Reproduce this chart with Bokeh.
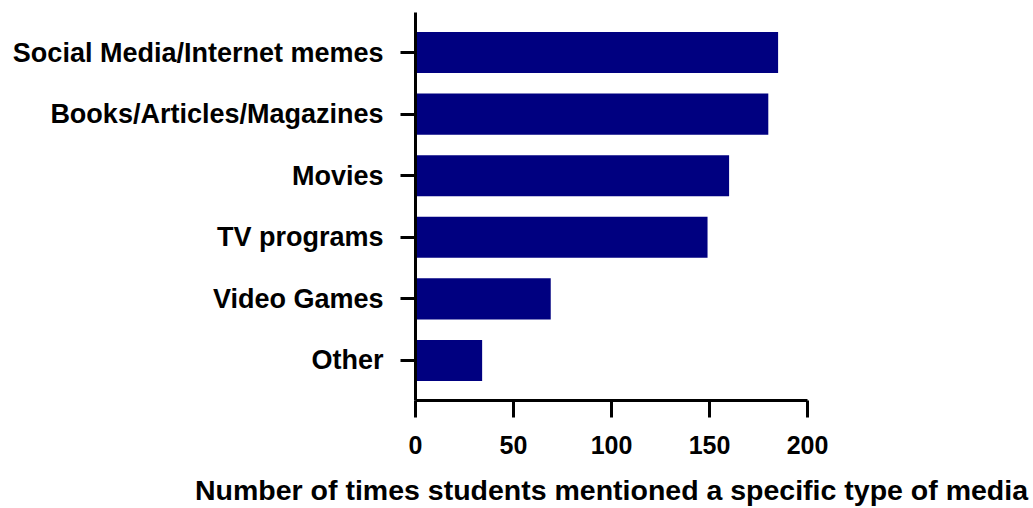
from bokeh.plotting import figure
from bokeh.models import Range1d, FixedTicker, ColumnDataSource
from bokeh.embed import file_html
from bokeh.resources import INLINE

categories = ["Social Media/Internet memes", "Books/Articles/Magazines", "Movies",
              "TV programs", "Video Games", "Other"]
counts = [185, 180, 160, 149, 69, 34]
x_ticks = [0, 50, 100, 150, 200]
x_title = "Number of times students mentioned a specific type of media"

n = len(categories)
positions = [n - 1 - i for i in range(n)]

src = ColumnDataSource(dict(y=positions, right=counts, name=categories))

p = figure(width=1033, height=508, output_backend="svg", toolbar_location=None,
           x_range=Range1d(0, 200), y_range=Range1d(-0.65, n - 1 + 0.65),
           min_border_left=415, min_border_right=226, min_border_top=12, min_border_bottom=103)

p.hbar(y="y", left=0, right="right", height=0.667, source=src,
       fill_color="#000080", line_color=None)

p.outline_line_color = None
p.xgrid.visible = False
p.ygrid.visible = False
p.background_fill_color = "white"
p.border_fill_color = "white"

font = "Liberation Sans"

xa = p.xaxis[0]
xa.ticker = FixedTicker(ticks=x_ticks)
xa.axis_line_width = 3
xa.axis_line_color = "black"
xa.major_tick_line_width = 3
xa.major_tick_line_color = "black"
xa.major_tick_out = 17
xa.major_tick_in = 0
xa.minor_tick_line_color = None
xa.major_label_text_font = font
xa.major_label_text_font_style = "bold"
xa.major_label_text_font_size = "25px"
xa.major_label_text_color = "black"
xa.major_label_standoff = 18
xa.axis_label = x_title
xa.axis_label_text_font = font
xa.axis_label_text_font_style = "bold"
xa.axis_label_text_font_size = "28.5px"
xa.axis_label_text_color = "black"
xa.axis_label_standoff = 17

ya = p.yaxis[0]
ya.ticker = FixedTicker(ticks=positions)
ya.major_label_overrides = {pos: name for pos, name in zip(positions, categories)}
ya.axis_line_width = 3
ya.axis_line_color = "black"
ya.major_tick_line_width = 3
ya.major_tick_line_color = "black"
ya.major_tick_out = 15
ya.major_tick_in = 0
ya.minor_tick_line_color = None
ya.major_label_text_font = font
ya.major_label_text_font_style = "bold"
ya.major_label_text_font_size = "27px"
ya.major_label_text_color = "black"
ya.major_label_standoff = 17

open("out.html", "w").write(file_html(p, INLINE))
